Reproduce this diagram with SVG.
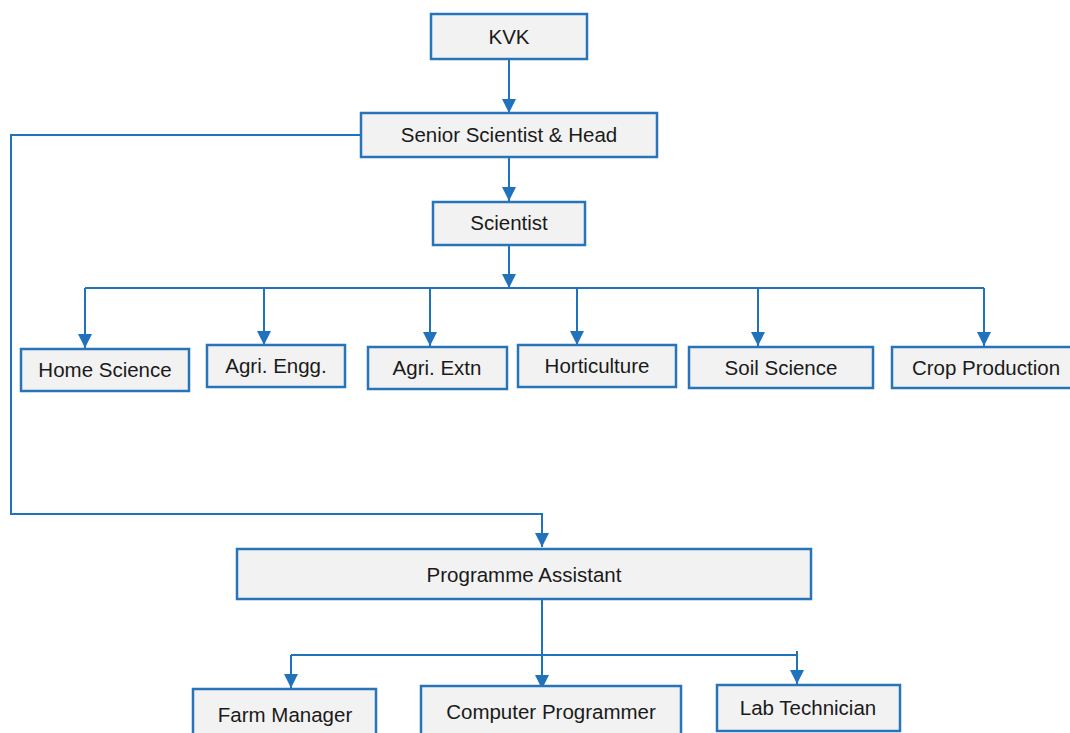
<svg xmlns="http://www.w3.org/2000/svg" width="1070" height="733" viewBox="0 0 1070 733">
<style>
.box{fill:#f2f2f2;stroke:#2874b8;stroke-width:2.5}
.lbl{font-family:"Liberation Sans",Arial,sans-serif;font-size:20.5px;fill:#1a1a1a;text-anchor:middle}
.con{fill:none;stroke:#1f72bb;stroke-width:2}
</style>
<defs>
<marker id="ah" markerUnits="userSpaceOnUse" markerWidth="14" markerHeight="14" viewBox="0 0 14 14" refX="14" refY="7" orient="auto">
<path d="M0,0 L14,7 L0,14 Z" fill="#1f72bb"/>
</marker>
</defs>
<rect width="1070" height="733" fill="#ffffff"/>
<g id="connectors">
<path class="con" d="M509,59 V113" marker-end="url(#ah)"/>
<path class="con" d="M509,157 V201" marker-end="url(#ah)"/>
<path class="con" d="M509,245 V288" marker-end="url(#ah)"/>
<path class="con" d="M85,288 H984"/>
<path class="con" d="M85,288 V348" marker-end="url(#ah)"/>
<path class="con" d="M264,288 V345" marker-end="url(#ah)"/>
<path class="con" d="M430,288 V346" marker-end="url(#ah)"/>
<path class="con" d="M577,288 V345" marker-end="url(#ah)"/>
<path class="con" d="M758,288 V346" marker-end="url(#ah)"/>
<path class="con" d="M984,288 V346" marker-end="url(#ah)"/>
<path class="con" d="M361,135 H11 V514 H542 V547" marker-end="url(#ah)"/>
<path class="con" d="M542,599 V689" marker-end="url(#ah)"/>
<path class="con" d="M291,655 H797"/>
<path class="con" d="M291,655 V688" marker-end="url(#ah)"/>
<path class="con" d="M797,651 V684" marker-end="url(#ah)"/>
</g>
<g id="kvk"><rect class="box" x="431" y="14" width="156" height="45"/><text class="lbl" x="509" y="44">KVK</text></g>
<g id="head"><rect class="box" x="361" y="113" width="296" height="44"/><text class="lbl" x="509" y="142">Senior Scientist &amp; Head</text></g>
<g id="scientist"><rect class="box" x="433" y="202" width="152" height="43"/><text class="lbl" x="509" y="230">Scientist</text></g>
<g id="home"><rect class="box" x="21" y="349" width="168" height="42"/><text class="lbl" x="105" y="377">Home Science</text></g>
<g id="engg"><rect class="box" x="207" y="345" width="138" height="42"/><text class="lbl" x="276" y="373">Agri. Engg.</text></g>
<g id="extn"><rect class="box" x="368" y="347" width="139" height="42"/><text class="lbl" x="437" y="375">Agri. Extn</text></g>
<g id="horti"><rect class="box" x="518" y="345" width="158" height="42"/><text class="lbl" x="597" y="373">Horticulture</text></g>
<g id="soil"><rect class="box" x="689" y="347" width="184" height="41"/><text class="lbl" x="781" y="375">Soil Science</text></g>
<g id="crop"><rect class="box" x="892" y="347" width="182" height="41"/><text class="lbl" x="986" y="375">Crop Production</text></g>
<g id="pa"><rect class="box" x="237" y="549" width="574" height="50"/><text class="lbl" x="524" y="582">Programme Assistant</text></g>
<g id="farm"><rect class="box" x="193" y="689" width="183" height="50"/><text class="lbl" x="285" y="722">Farm Manager</text></g>
<g id="comp"><rect class="box" x="421" y="686" width="260" height="52"/><text class="lbl" x="551" y="719">Computer Programmer</text></g>
<g id="lab"><rect class="box" x="717" y="685" width="183" height="46"/><text class="lbl" x="808" y="715">Lab Technician</text></g>
</svg>
